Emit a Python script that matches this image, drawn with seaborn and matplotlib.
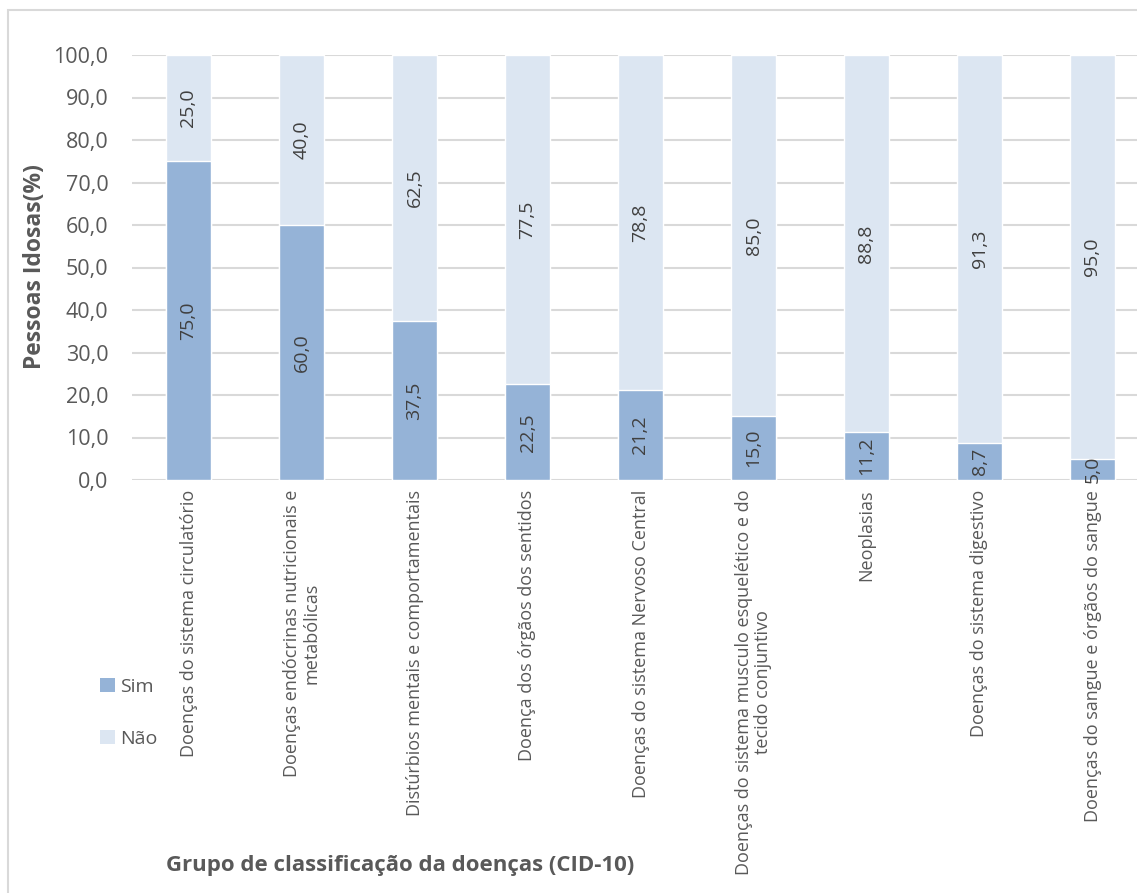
import matplotlib
matplotlib.use("Agg")
import matplotlib.pyplot as plt
import seaborn as sns
import pandas as pd
from matplotlib.patches import Rectangle, Patch

# Disease groups (ICD-10) and share of older people per answer
categories = [
    "Doenças do sistema circulatório",
    "Doenças endócrinas nutricionais e\nmetabólicas",
    "Distúrbios mentais e comportamentais",
    "Doença dos órgãos dos sentidos",
    "Doenças do sistema Nervoso Central",
    "Doenças do sistema musculo esquelético e do\ntecido conjuntivo",
    "Neoplasias",
    "Doenças do sistema digestivo",
    "Doenças do sangue e órgãos do sangue",
]
sim = [75.0, 60.0, 37.5, 22.5, 21.2, 15.0, 11.2, 8.7, 5.0]
nao = [25.0, 40.0, 62.5, 77.5, 78.8, 85.0, 88.8, 91.3, 95.0]
yticks = [0, 10, 20, 30, 40, 50, 60, 70, 80, 90, 100]

COLOR_SIM = "#95B3D7"
COLOR_NAO = "#DCE6F2"
TEXT = "#595959"
GRID = "#D9D9D9"

sns.set_theme(style="white")
plt.rcParams["font.family"] = ["Open Sans", "DejaVu Sans"]

W, H = 1137, 893
fig = plt.figure(figsize=(W / 100, H / 100), dpi=100)

# chart frame
fig.patches.append(Rectangle((8 / W, -0.05), 1.2, 1 - 10 / H + 0.05,
                             transform=fig.transFigure, fill=False,
                             edgecolor="#D9D9D9", linewidth=1.5, zorder=0))

left, right = 132 / W, 1149 / W
bottom, top = 1 - 480 / H, 1 - 55 / H
ax = fig.add_axes([left, bottom, right - left, top - bottom])

df = pd.DataFrame({"grupo": categories, "Sim": sim, "Não": nao})
df["total"] = df["Sim"] + df["Não"]

sns.barplot(data=df, x="grupo", y="total", color=COLOR_NAO, width=0.4,
            saturation=1, ax=ax, zorder=2)
sns.barplot(data=df, x="grupo", y="Sim", color=COLOR_SIM, width=0.4,
            saturation=1, ax=ax, zorder=3)

for i, (s, n) in enumerate(zip(sim, nao)):
    ax.text(i, s / 2, f"{s:.1f}".replace(".", ","), rotation=90,
            ha="center", va="center", fontsize=14, color="#404040", zorder=4)
    ax.text(i, s + n / 2, f"{n:.1f}".replace(".", ","), rotation=90,
            ha="center", va="center", fontsize=14, color="#404040", zorder=4)

ax.set_ylim(0, 100)
ax.set_xlim(-0.5, len(categories) - 0.5)
ax.set_yticks(yticks)
ax.set_yticklabels([f"{v:.1f}".replace(".", ",") for v in yticks],
                   fontsize=15.5, color=TEXT)
ax.yaxis.grid(True, color=GRID, linewidth=1.5, zorder=0)
ax.set_axisbelow(True)
ax.tick_params(axis="y", length=0, pad=17)
ax.tick_params(axis="x", length=0, pad=7)
ax.set_xticks(range(len(categories)))
ax.set_xticklabels(categories, rotation=90, fontsize=13, color=TEXT,
                   va="top", ha="center", multialignment="center",
                   linespacing=1.1)
for sp in ax.spines.values():
    sp.set_visible(False)
ax.set_xlabel("")
ax.set_ylabel("")

fig.text(35 / W, 1 - 267 / H, "Pessoas Idosas(%)", rotation=90,
         ha="center", va="center", fontsize=16.5, fontweight="bold", color=TEXT)
fig.text(400 / W, 1 - 866 / H, "Grupo de classificação da doenças (CID-10)",
         ha="center", va="center", fontsize=16, fontweight="bold", color=TEXT)

handles = [Patch(facecolor=COLOR_SIM, edgecolor="none"),
           Patch(facecolor=COLOR_NAO, edgecolor="none")]
fig.legend(handles, ["Sim", "Não"], loc="center left",
           bbox_to_anchor=(100 / W, 1 - 713 / H), frameon=False,
           borderpad=0, borderaxespad=0,
           fontsize=14, labelcolor=TEXT, handlelength=0.75, handleheight=0.75,
           handletextpad=0.3, labelspacing=1.75)

fig.savefig("out.png", dpi=100)
